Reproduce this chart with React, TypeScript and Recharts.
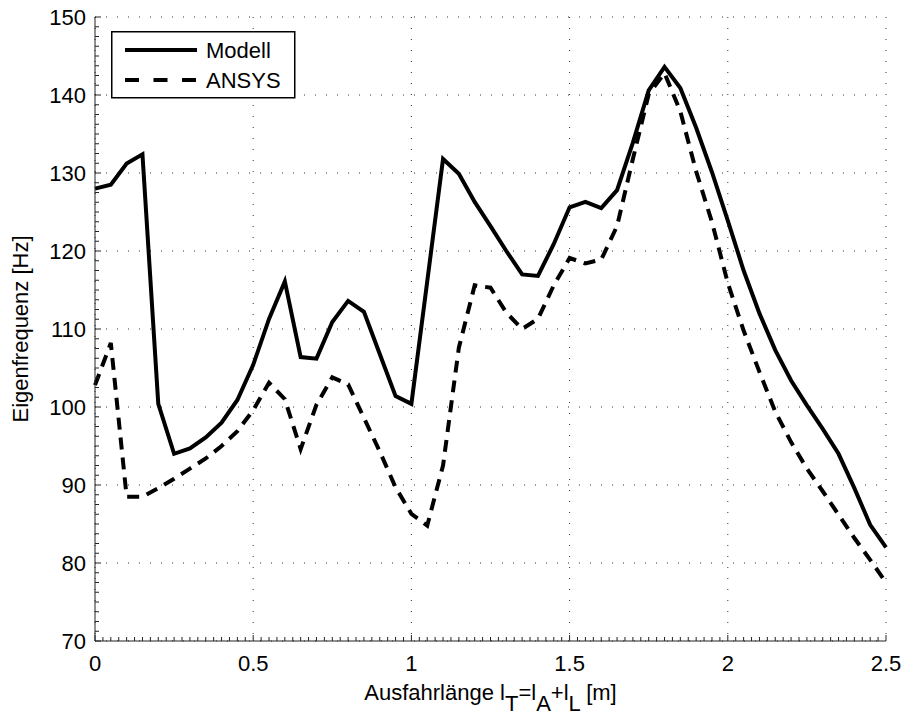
import React from 'react';
import { LineChart, Line, XAxis, YAxis, CartesianGrid, Legend } from 'recharts';

// Ausfahrlänge l_T in m
const lengths = [
  0, 0.05, 0.1, 0.15, 0.2, 0.25, 0.3, 0.35, 0.4, 0.45,
  0.5, 0.55, 0.6, 0.65, 0.7, 0.75, 0.8, 0.85, 0.9, 0.95,
  1.0, 1.05, 1.1, 1.15, 1.2, 1.25, 1.3, 1.35, 1.4, 1.45,
  1.5, 1.55, 1.6, 1.65, 1.7, 1.75, 1.8, 1.85, 1.9, 1.95,
  2.0, 2.05, 2.1, 2.15, 2.2, 2.25, 2.3, 2.35, 2.4, 2.45, 2.5,
];

// Eigenfrequenz in Hz, analytisches Modell
const modell = [
  128.0, 128.5, 131.2, 132.4, 100.4, 94.0, 94.7, 96.1, 98.0, 100.9,
  105.4, 111.3, 116.1, 106.4, 106.2, 110.9, 113.6, 112.2, 106.8, 101.4,
  100.4, 116.1, 131.8, 129.9, 126.3, 123.2, 120.0, 117.0, 116.8, 120.9,
  125.6, 126.3, 125.5, 127.8, 133.9, 140.6, 143.6, 140.9, 135.8, 130.1,
  123.9, 117.5, 112.0, 107.3, 103.4, 100.2, 97.2, 94.0, 89.6, 84.9, 82.0,
];

// Eigenfrequenz in Hz, FE-Rechnung
const ansys = [
  102.8, 108.2, 88.5, 88.5, 89.6, 90.8, 92.1, 93.4, 95.0, 96.9,
  99.6, 103.1, 101.0, 94.6, 100.3, 103.8, 102.9, 98.6, 94.3, 89.7,
  86.3, 84.8, 92.5, 107.6, 115.6, 115.3, 112.1, 110.0, 111.3, 115.6,
  119.1, 118.4, 118.9, 123.2, 131.8, 140.1, 142.8, 137.9, 130.2, 123.7,
  115.9, 109.8, 104.5, 99.4, 95.5, 92.1, 89.2, 86.2, 83.2, 80.4, 77.5,
];

const seriesNames = ['Modell', 'ANSYS'];
const xMajorTicks = [0, 0.5, 1, 1.5, 2, 2.5];
const yMajorTicks = [70, 80, 90, 100, 110, 120, 130, 140, 150];

const data = lengths.map((l, i) => ({ l, modell: modell[i], ansys: ansys[i] }));

// minor ticks: 20 steps per 0.5 m, 8 steps per 10 Hz
const xTicks = Array.from({ length: 101 }, (_, i) => +(i * 0.025).toFixed(4));
const yTicks = Array.from({ length: 65 }, (_, i) => +(70 + i * 1.25).toFixed(4));

const FONT = '"Liberation Sans", Arial, Helvetica, sans-serif';
const FS = 22;
const INK = '#000';

const isMajor = (list: number[], v: number) => list.some((t) => Math.abs(t - v) < 1e-6);

const XTick = (props: any) => {
  const { x, y, payload } = props;
  const major = isMajor(xMajorTicks, payload.value);
  return (
    <g>
      <line x1={x} x2={x} y1={y} y2={y - (major ? 6 : 4)} stroke="#222" strokeWidth={1} />
      {major && (
        <text x={x} y={y + 30} textAnchor="middle" fontSize={FS} fontFamily={FONT} fill={INK}>
          {String(payload.value)}
        </text>
      )}
    </g>
  );
};

const YTick = (props: any) => {
  const { x, y, payload } = props;
  const major = isMajor(yMajorTicks, payload.value);
  return (
    <g>
      <line x1={x} x2={x + (major ? 6 : 4)} y1={y} y2={y} stroke="#222" strokeWidth={1} />
      {major && (
        <text x={x - 9} y={y + 8} textAnchor="end" fontSize={FS} fontFamily={FONT} fill={INK}>
          {String(payload.value)}
        </text>
      )}
    </g>
  );
};

const XTitle = (props: any) => {
  const { x, y, width } = props.viewBox;
  return (
    <text x={x + width / 2} y={y + 59} textAnchor="middle" fontSize={FS} fontFamily={FONT} fill={INK}>
      Ausfahrlänge l<tspan dy={11}>T</tspan>
      <tspan dy={-11}>=l</tspan>
      <tspan dy={11}>A</tspan>
      <tspan dy={-11}>+l</tspan>
      <tspan dy={11}>L</tspan>
      <tspan dy={-11}> [m]</tspan>
    </text>
  );
};

const YTitle = (props: any) => {
  const { x, y, height } = props.viewBox;
  const cx = x + 28;
  const cy = y + height / 2;
  return (
    <text
      x={cx}
      y={cy}
      transform={`rotate(-90 ${cx} ${cy})`}
      textAnchor="middle"
      fontSize={FS}
      fontFamily={FONT}
      fill={INK}
    >
      Eigenfrequenz [Hz]
    </text>
  );
};

const LegendBox = (props: any) => {
  const items = [...(props.payload || [])].sort(
    (a: any, b: any) => seriesNames.indexOf(a.value) - seriesNames.indexOf(b.value)
  );
  return (
    <svg width={185} height={68} style={{ display: 'block' }}>
      <rect x={0.75} y={0.75} width={183} height={66} fill="#fff" stroke={INK} strokeWidth={1.5} />
      {items.map((item: any, i: number) => {
        const cy = 19 + i * 30;
        const dashed = item.payload && item.payload.strokeDasharray;
        return (
          <g key={item.value}>
            <line
              x1={14}
              x2={86}
              y1={cy}
              y2={cy}
              stroke={INK}
              strokeWidth={4}
              strokeDasharray={dashed ? '14 14.5' : undefined}
            />
            <text x={95} y={cy + 8} fontSize={FS} fontFamily={FONT} fill={INK}>
              {item.value}
            </text>
          </g>
        );
      })}
    </svg>
  );
};

export default function App() {
  return (
    <div style={{ position: 'absolute', left: 0, top: 0, background: '#fff', fontFamily: FONT }}>
      <LineChart width={907} height={717} data={data} margin={{ top: 17, right: 21, left: 0, bottom: 0 }}>
        <CartesianGrid
          horizontalValues={yMajorTicks}
          verticalValues={xMajorTicks}
          stroke="#333"
          strokeWidth={1}
          strokeDasharray="1 10"
        />
        <XAxis
          dataKey="l"
          type="number"
          domain={[0, 2.5]}
          ticks={xTicks}
          interval={0}
          height={76}
          tickSize={0}
          tickMargin={0}
          tickLine={false}
          tick={<XTick />}
          axisLine={{ stroke: '#222', strokeWidth: 1 }}
          label={(p: any) => <XTitle {...p} />}
        />
        <YAxis
          type="number"
          domain={[70, 150]}
          ticks={yTicks}
          interval={0}
          width={95}
          tickSize={0}
          tickMargin={0}
          tickLine={false}
          tick={<YTick />}
          axisLine={{ stroke: '#222', strokeWidth: 1 }}
          label={(p: any) => <YTitle {...p} />}
        />
        <Legend
          layout="vertical"
          verticalAlign="middle"
          align="center"
          wrapperStyle={{ left: 111, top: 31, width: 185, height: 68 }}
          content={<LegendBox />}
        />
        <Line
          type="linear"
          dataKey="modell"
          name="Modell"
          stroke={INK}
          strokeWidth={4}
          dot={false}
          activeDot={false}
          isAnimationActive={false}
        />
        <Line
          type="linear"
          dataKey="ansys"
          name="ANSYS"
          stroke={INK}
          strokeWidth={4}
          strokeDasharray="12 8"
          dot={false}
          activeDot={false}
          isAnimationActive={false}
        />
      </LineChart>
    </div>
  );
}
